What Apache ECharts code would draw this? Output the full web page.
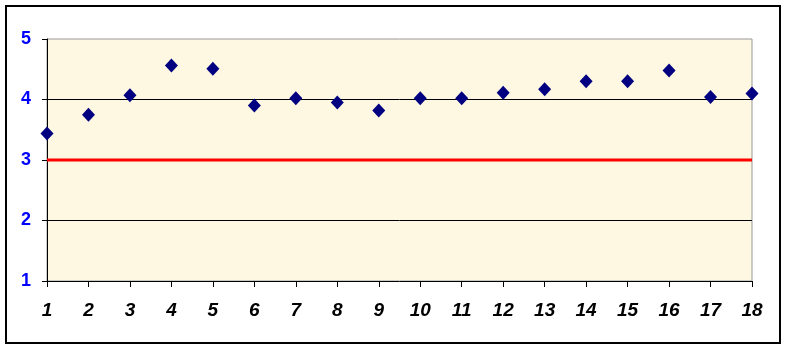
<!DOCTYPE html>
<html>
<head>
<meta charset="utf-8">
<script src="https://cdn.jsdelivr.net/npm/echarts@6/dist/echarts.min.js"></script>
<style>html,body{margin:0;padding:0;background:#fff;}#c{width:787px;height:349px;}</style>
</head>
<body>
<div id="c"></div>
<script>
var categories = [1,2,3,4,5,6,7,8,9,10,11,12,13,14,15,16,17,18];
var scores = [3.44,3.75,4.07,4.56,4.51,3.90,4.02,3.95,3.82,4.02,4.02,4.11,4.17,4.30,4.30,4.48,4.04,4.10];
var threshold = 3;
var yTicks = [1,2,3,4,5];

var chart = echarts.init(document.getElementById('c'), null, {renderer:'canvas'});
chart.setOption({
  backgroundColor:'#ffffff',
  animation:false,
  graphic:[{type:'rect', shape:{x:6,y:6,width:774,height:337}, style:{fill:'none', stroke:'#000', lineWidth:2}, z:-1}],
  grid:{left:47,right:35,top:39,bottom:68,show:true,backgroundColor:'#FEF7E1',borderColor:'#999',borderWidth:1},
  xAxis:{type:'value',min:categories[0],max:categories[categories.length-1],interval:1,
    axisLine:{show:true,lineStyle:{color:'#000',width:1}},
    axisTick:{show:true,length:6,inside:false,lineStyle:{color:'#000'}},
    axisLabel:{margin:20,color:'#000',fontFamily:'Arial, Liberation Sans',fontSize:19,fontWeight:'bold',fontStyle:'italic',
      formatter:function(v){return String(v);}},
    splitLine:{show:false}},
  yAxis:{type:'value',min:yTicks[0],max:yTicks[yTicks.length-1],interval:1,
    axisLine:{show:true,lineStyle:{color:'#000',width:1}},
    axisTick:{show:true,length:5,lineStyle:{color:'#000'}},
    axisLabel:{margin:16,color:'#0000FF',fontFamily:'Arial, Liberation Sans',fontSize:18,fontWeight:'bold'},
    splitLine:{show:true,lineStyle:{color:['rgba(0,0,0,0)','#000','rgba(0,0,0,0)','#000','rgba(0,0,0,0)'],width:1}}},
  series:[
    {type:'line',data:[[categories[0],threshold],[categories[categories.length-1],threshold]],
      symbol:'none',lineStyle:{color:'#FF0000',width:3},z:2},
    {type:'scatter',data:categories.map(function(c,i){return [c,scores[i]];}),
      symbol:'diamond',symbolSize:[13,14],itemStyle:{color:'#000080',opacity:1},z:3}
  ]
});
</script>
</body>
</html>
